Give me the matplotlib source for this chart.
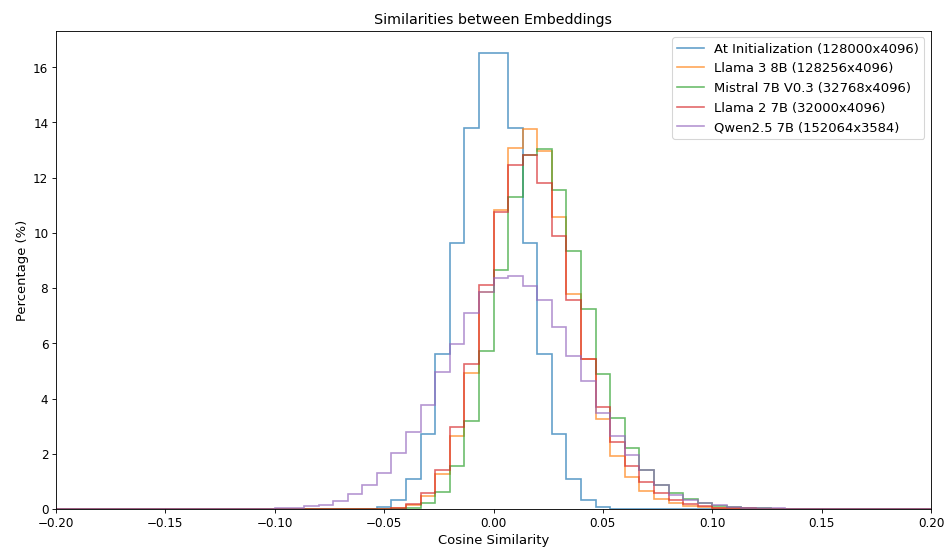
import numpy as np
import matplotlib.pyplot as plt

# 60 equal bins over [-0.2, 0.2]
bin_edges = np.linspace(-0.2, 0.2, 61)
n_bins = len(bin_edges) - 1

labels = [
    "At Initialization (128000x4096)",
    "Llama 3 8B (128256x4096)",
    "Mistral 7B V0.3 (32768x4096)",
    "Llama 2 7B (32000x4096)",
    "Qwen2.5 7B (152064x3584)",
]

# percentage per bin; first value sits in bin index *_first
init_first = 21
init_pct = [0.01, 0.08, 0.34, 1.09, 2.72, 5.6, 9.65, 13.8, 16.5,
            16.5, 13.8, 9.65, 5.6, 2.72, 1.09, 0.34, 0.08, 0.01]

llama3_first = 23
llama3_pct = [0.03, 0.15, 0.47, 1.27, 2.65, 4.91, 7.87, 10.84, 13.08, 13.75,
              12.96, 10.57, 7.78, 5.43, 3.27, 1.93, 1.14, 0.65, 0.36, 0.2,
              0.11, 0.06, 0.03, 0.01]

mistral_first = 23
mistral_pct = [0.01, 0.05, 0.23, 0.62, 1.54, 3.17, 5.72, 8.65, 11.31, 12.81,
               13.02, 11.56, 9.33, 7.24, 4.9, 3.3, 2.2, 1.42, 0.85, 0.57,
               0.36, 0.21, 0.12, 0.07, 0.04, 0.02, 0.01, 0.01]

llama2_first = 23
llama2_pct = [0.04, 0.18, 0.59, 1.42, 2.98, 5.26, 8.1, 10.74, 12.47, 12.81,
              11.8, 9.89, 7.57, 5.42, 3.68, 2.41, 1.56, 0.97, 0.58, 0.34,
              0.19, 0.1, 0.05, 0.03, 0.02, 0.01]

qwen_first = 13
qwen_pct = [0.01, 0.01, 0.02, 0.04, 0.09, 0.15, 0.3, 0.55, 0.87, 1.31,
            2.02, 2.79, 3.78, 4.96, 5.99, 7.08, 7.87, 8.35, 8.45, 8.08,
            7.57, 6.6, 5.54, 4.65, 3.48, 2.64, 1.96, 1.42, 0.87, 0.51,
            0.33, 0.23, 0.14, 0.08, 0.05, 0.03, 0.02, 0.01]


def full_bins(first, vals):
    out = np.zeros(n_bins)
    out[first:first + len(vals)] = vals
    return out


series = [
    full_bins(init_first, init_pct),
    full_bins(llama3_first, llama3_pct),
    full_bins(mistral_first, mistral_pct),
    full_bins(llama2_first, llama2_pct),
    full_bins(qwen_first, qwen_pct),
]

fig, ax = plt.subplots(figsize=(12, 7))
for vals, lab in zip(series, labels):
    ax.stairs(vals, bin_edges, label=lab, alpha=0.7, linewidth=1.5)

ax.set_xlim(-0.2, 0.2)
ax.set_ylim(0, max(init_pct) * 1.05)
ax.tick_params(labelsize=11)
ax.set_title("Similarities between Embeddings", fontsize=13)
ax.set_xlabel("Cosine Similarity", fontsize=12)
ax.set_ylabel("Percentage (%)", fontsize=12)
ax.legend(loc="upper right", fontsize=12)

fig.subplots_adjust(left=56 / 947, right=931 / 947, top=1 - 31 / 552, bottom=1 - 509 / 552)
plt.savefig("out.png", dpi=947 / 12)
